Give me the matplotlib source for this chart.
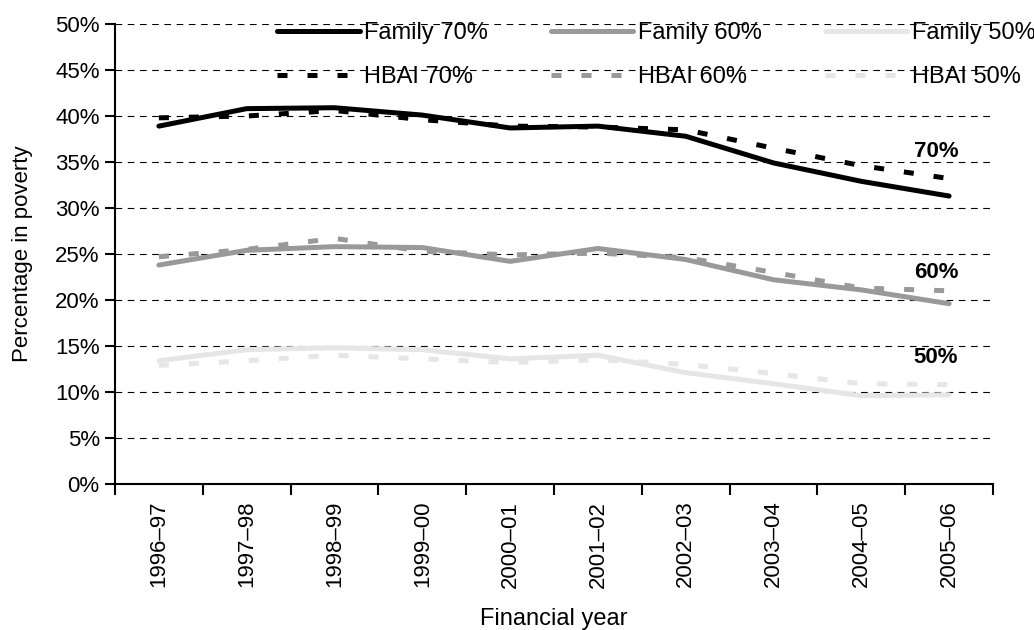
import matplotlib
matplotlib.use("Agg")
import matplotlib.pyplot as plt
from matplotlib.ticker import FixedLocator, NullFormatter, FuncFormatter

plt.rcParams['font.family'] = ['Liberation Sans', 'DejaVu Sans']

years = ["1996–97", "1997–98", "1998–99", "1999–00", "2000–01",
         "2001–02", "2002–03", "2003–04", "2004–05", "2005–06"]

family_70 = [38.9, 40.8, 40.9, 40.1, 38.7, 38.9, 37.8, 34.9, 32.9, 31.3]
hbai_70   = [39.8, 40.0, 40.6, 39.6, 38.9, 38.8, 38.5, 36.5, 34.6, 33.2]
family_60 = [23.8, 25.4, 25.8, 25.7, 24.2, 25.6, 24.4, 22.2, 21.1, 19.6]
hbai_60   = [24.7, 25.5, 26.7, 25.3, 24.9, 25.1, 24.6, 23.0, 21.3, 21.0]
family_50 = [13.4, 14.6, 14.8, 14.6, 13.6, 14.0, 12.1, 10.9, 9.6, 9.7]
hbai_50   = [12.9, 13.4, 14.0, 13.6, 13.2, 13.5, 13.0, 12.0, 10.9, 10.8]

series_labels = ["Family 70%", "HBAI 70%", "Family 60%", "HBAI 60%", "Family 50%", "HBAI 50%"]
end_labels = ["70%", "60%", "50%"]
end_label_y = [36.1, 23.0, 13.8]

c70, c60, c50 = "#000000", "#999999", "#e6e6e6"

fig = plt.figure(figsize=(10.34, 6.30), dpi=100)
ax = fig.add_axes([115/1034, 1-484/630, (993-115)/1034, 460/630])

x = list(range(len(years)))
lw = 3.6
dash = (2, 4)
series = [(family_70, hbai_70, c70), (family_60, hbai_60, c60), (family_50, hbai_50, c50)]
handles = []
for i, (fam, hb, col) in enumerate(series):
    h1, = ax.plot(x, fam, color=col, lw=lw, solid_capstyle='round', zorder=3 + i,
                  label=series_labels[2*i])
    h2, = ax.plot(x, hb, color=col, lw=lw, linestyle=(0, dash), dash_capstyle='butt',
                  zorder=3 + i, label=series_labels[2*i+1])
    handles += [h1, h2]

ax.set_xlim(-0.5, len(years) - 0.5)
ax.set_ylim(0, 50)
ax.yaxis.set_major_locator(FixedLocator(range(0, 51, 5)))
ax.yaxis.set_major_formatter(FuncFormatter(lambda v, p: f"{int(v)}%"))
for yv in range(5, 51, 5):
    ax.axhline(yv, color="black", lw=0.8, linestyle=(0, (6, 5)), zorder=1)

ax.xaxis.set_major_locator(FixedLocator([i - 0.5 for i in range(len(years) + 1)]))
ax.xaxis.set_major_formatter(NullFormatter())
ax.xaxis.set_minor_locator(FixedLocator(x))
ax.set_xticklabels(years, minor=True, rotation=90, fontsize=16)
ax.tick_params(axis='x', which='minor', length=0, pad=12)
ax.tick_params(axis='x', which='major', length=8, width=1.5, direction='out')
ax.tick_params(axis='y', length=7, width=1.5, direction='out', labelsize=16, pad=4)

for s in ['top', 'right']:
    ax.spines[s].set_visible(False)
for s in ['left', 'bottom']:
    ax.spines[s].set_linewidth(1.5)

ax.set_ylabel("Percentage in poverty", fontsize=16, labelpad=16)
ax.set_xlabel("Financial year", fontsize=17, labelpad=15)

for lab, yv in zip(end_labels, end_label_y):
    ax.text(8.85, yv, lab, fontsize=16, fontweight='bold', ha='center', va='center', zorder=10)

leg = fig.legend(handles=handles, labels=series_labels, ncol=3, loc='upper left',
                 bbox_to_anchor=(277/1034, 1 - 22/630), frameon=False, fontsize=17,
                 handlelength=3.5, handletextpad=0.2, columnspacing=2.65,
                 labelspacing=0.95, borderpad=0, borderaxespad=0)

fig.savefig("out.png", dpi=100)
